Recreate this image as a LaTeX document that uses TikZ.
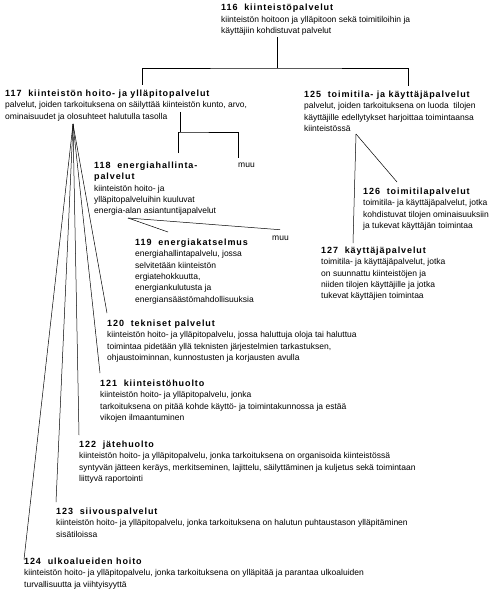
\documentclass[tikz,border=0pt]{standalone}
\usepackage{fontspec}
\setmainfont{Liberation Sans}
\newfontfamily\otsikkofont{Liberation Sans}[LetterSpace=10]
\usetikzlibrary{positioning}
\newcommand{\ots}[1]{{\otsikkofont\bfseries\fontsize{9}{11.4}\selectfont #1}}

\begin{document}
\begin{tikzpicture}[x=1pt, y=-1pt,
  kuvaus/.style={anchor=north west, align=left, inner sep=0pt, font={\fontsize{8.5}{11.4}\selectfont}},
  muulbl/.style={anchor=base west, inner sep=0pt, font={\fontsize{8.5}{11.4}\selectfont}},
  viiva/.style={draw=black, line width=0.5pt}
]
\useasboundingbox (0,0) rectangle (500,599);

\node[kuvaus] (n116) at (221,4) {\ots{116~ kiinteistöpalvelut}\\
  kiinteistön hoitoon ja ylläpitoon sekä toimitiloihin ja\\
  käyttäjiin kohdistuvat palvelut};

\node[kuvaus] (n117) at (5,89.5) {\ots{117~ kiinteistön hoito- ja ylläpitopalvelut}\\
  palvelut, joiden tarkoituksena on säilyttää kiinteistön kunto, arvo,\\
  ominaisuudet ja olosuhteet halutulla tasolla};

\node[kuvaus] (n125) at (304,90.5) {\ots{125~ toimitila- ja käyttäjäpalvelut}\\
  palvelut, joiden tarkoituksena on luoda~ tilojen\\
  käyttäjille edellytykset harjoittaa toimintaansa\\
  kiinteistössä};

\node[kuvaus] (n118) at (94,161.5) {\ots{118~ energiahallinta-}\\
  \ots{palvelut}\\
  kiinteistön hoito- ja\\
  ylläpitopalveluihin kuuluvat\\
  energia-alan asiantuntijapalvelut};
\node[muulbl] (muuA) at (238,167) {muu};

\node[kuvaus] (n119) at (135,238.5) {\ots{119~ energiakatselmus}\\
  energiahallintapalvelu, jossa\\
  selvitetään kiinteistön\\
  ergiatehokkuutta,\\
  energiankulutusta ja\\
  energiansäästömahdollisuuksia};
\node[muulbl] (muuB) at (272,240) {muu};

\node[kuvaus] (n126) at (363,187.5) {\ots{126~ toimitilapalvelut}\\
  toimitila- ja käyttäjäpalvelut, jotka\\
  kohdistuvat tilojen ominaisuuksiin\\
  ja tukevat käyttäjän toimintaa};

\node[kuvaus] (n127) at (321,246.5) {\ots{127~ käyttäjäpalvelut}\\
  toimitila- ja käyttäjäpalvelut, jotka\\
  on suunnattu kiinteistöjen ja\\
  niiden tilojen käyttäjille ja jotka\\
  tukevat käyttäjien toimintaa};

\node[kuvaus] (n120) at (107,319.5) {\ots{120~ tekniset palvelut}\\
  kiinteistön hoito- ja ylläpitopalvelu, jossa haluttuja oloja tai haluttua\\
  toimintaa pidetään yllä teknisten järjestelmien tarkastuksen,\\
  ohjaustoiminnan, kunnostusten ja korjausten avulla};

\node[kuvaus] (n121) at (100,379.5) {\ots{121~ kiinteistöhuolto}\\
  kiinteistön hoito- ja ylläpitopalvelu, jonka\\
  tarkoituksena on pitää kohde käyttö- ja toimintakunnossa ja estää\\
  vikojen ilmaantuminen};

\node[kuvaus] (n122) at (79,440.5) {\ots{122~ jätehuolto}\\
  kiinteistön hoito- ja ylläpitopalvelu, jonka tarkoituksena on organisoida kiinteistössä\\
  syntyvän jätteen keräys, merkitseminen, lajittelu, säilyttäminen ja kuljetus sekä toimintaan\\
  liittyvä raportointi};

\node[kuvaus] (n123) at (56,507.5) {\ots{123~ siivouspalvelut}\\
  kiinteistön hoito- ja ylläpitopalvelu, jonka tarkoituksena on halutun puhtaustason ylläpitäminen\\
  sisätiloissa};

\node[kuvaus] (n124) at (24,557.5) {\ots{124~ ulkoalueiden hoito}\\
  kiinteistön hoito- ja ylläpitopalvelu, jonka tarkoituksena on ylläpitää ja parantaa ulkoaluiden\\
  turvallisuutta ja viihtyisyyttä};

\coordinate (s116) at (277,37);
\coordinate (bar116) at (277,68);
\draw[viiva] (s116) -- (bar116);
\draw[viiva] ([xshift=137pt,yshift=4.5pt]n117.north west) |- (bar116)
  -| ([xshift=104pt,yshift=4.5pt]n125.north west);

\coordinate (s117) at (180,112);
\coordinate (bar117) at (180,132);
\draw[viiva] (s117) -- (bar117);
\draw[viiva] ([xshift=84pt,yshift=8.5pt]n118.north west) |- (bar117)
  -| ([yshift=4.5pt]muuA.north west);

\coordinate (a118) at (128,218);
\draw[viiva] (a118) -- ([xshift=33pt,yshift=6.5pt]n119.north west);
\draw[viiva] (a118) -- ([xshift=8pt,yshift=5.5pt]muuB.north west);

\coordinate (a125) at (356,134);
\draw[viiva] (a125) -- ([xshift=34pt,yshift=5.5pt]n126.north west);
\draw[viiva] (a125) -- ([xshift=32pt,yshift=3.5pt]n127.north west);

\coordinate (a117) at (73,124);
\foreach \n/\dy in {120/6.5, 121/6.5, 122/5.5, 123/5.5, 124/-2} {
  \draw[viiva] (a117) -- ([yshift=\dy pt]n\n.north west);
}
\end{tikzpicture}
\end{document}
